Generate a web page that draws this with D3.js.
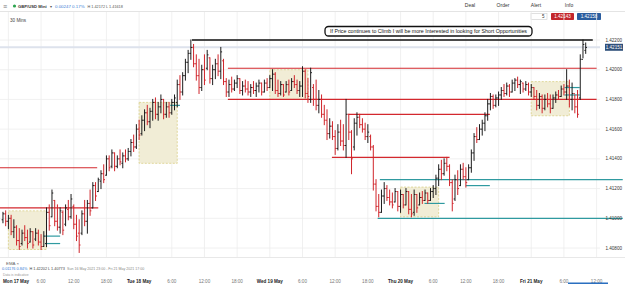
<!DOCTYPE html>
<html>
<head>
<meta charset="utf-8">
<script src="https://cdn.jsdelivr.net/npm/d3@7"></script>
<style>
  body { margin: 0; background: #fff; }
  svg text { font-family: "Liberation Sans", Arial, sans-serif; }
</style>
</head>
<body>
<svg id="chart" width="625" height="284"></svg>
<script>
// GBP/USD Mini, 30 min bars, first bar Sun 16 May 23:00
const firstBar = '2021-05-16T23:00:00Z'
// [open, high, low, close]
const ohlc = [
  [1.4099,1.4104,1.4097,1.4103],[1.4103,1.4105,1.4095,1.4098],[1.4098,1.4102,1.4093,1.4100],[1.4100,1.4102,1.4089,1.4091],
  [1.4091,1.4099,1.4087,1.4094],[1.4094,1.4095,1.4082,1.4085],[1.4085,1.4093,1.4079,1.4081],[1.4083,1.4092,1.4082,1.4090],
  [1.4090,1.4095,1.4085,1.4087],[1.4087,1.4092,1.4080,1.4083],[1.4084,1.4093,1.4084,1.4091],[1.4091,1.4091,1.4080,1.4082],
  [1.4086,1.4093,1.4085,1.4090],[1.4090,1.4092,1.4082,1.4084],[1.4084,1.4089,1.4079,1.4081],[1.4081,1.4091,1.4081,1.4088],
  [1.4083,1.4107,1.4081,1.4104],[1.4104,1.4109,1.4092,1.4095],[1.4101,1.4119,1.4101,1.4117],[1.4112,1.4112,1.4095,1.4098],
  [1.4098,1.4109,1.4092,1.4094],[1.4094,1.4107,1.4090,1.4105],[1.4104,1.4105,1.4089,1.4092],[1.4096,1.4109,1.4095,1.4107],
  [1.4106,1.4112,1.4099,1.4101],[1.4101,1.4116,1.4100,1.4113],[1.4108,1.4109,1.4093,1.4096],[1.4096,1.4102,1.4085,1.4088],
  [1.4090,1.4099,1.4077,1.4082],[1.4090,1.4105,1.4089,1.4103],[1.4103,1.4112,1.4095,1.4098],[1.4098,1.4112,1.4090,1.4110],
  [1.4110,1.4119,1.4102,1.4105],[1.4107,1.4124,1.4107,1.4122],[1.4122,1.4124,1.4112,1.4115],[1.4118,1.4127,1.4118,1.4126],
  [1.4125,1.4132,1.4120,1.4130],[1.4130,1.4136,1.4124,1.4126],[1.4129,1.4142,1.4129,1.4140],[1.4140,1.4142,1.4132,1.4134],
  [1.4135,1.4146,1.4134,1.4144],[1.4144,1.4144,1.4132,1.4135],[1.4135,1.4142,1.4134,1.4140],[1.4140,1.4146,1.4136,1.4138],
  [1.4137,1.4144,1.4134,1.4142],[1.4142,1.4146,1.4138,1.4140],[1.4140,1.4147,1.4139,1.4145],[1.4145,1.4153,1.4142,1.4151],
  [1.4151,1.4156,1.4145,1.4148],[1.4148,1.4163,1.4147,1.4160],[1.4160,1.4166,1.4153,1.4156],[1.4157,1.4169,1.4156,1.4166],
  [1.4166,1.4173,1.4159,1.4171],[1.4171,1.4176,1.4163,1.4165],[1.4165,1.4174,1.4161,1.4172],[1.4172,1.4180,1.4166,1.4178],
  [1.4178,1.4181,1.4167,1.4170],[1.4170,1.4178,1.4166,1.4175],[1.4175,1.4183,1.4171,1.4180],[1.4180,1.4180,1.4167,1.4170],
  [1.4170,1.4178,1.4168,1.4175],[1.4175,1.4178,1.4168,1.4171],[1.4171,1.4180,1.4170,1.4178],[1.4178,1.4183,1.4173,1.4181],
  [1.4178,1.4193,1.4175,1.4190],[1.4190,1.4196,1.4180,1.4185],[1.4185,1.4198,1.4183,1.4196],[1.4196,1.4207,1.4193,1.4205],
  [1.4205,1.4213,1.4198,1.4211],[1.4211,1.4220,1.4207,1.4215],[1.4215,1.4217,1.4202,1.4204],[1.4204,1.4210,1.4193,1.4196],
  [1.4196,1.4207,1.4184,1.4188],[1.4188,1.4203,1.4186,1.4200],[1.4200,1.4210,1.4190,1.4193],[1.4201,1.4213,1.4200,1.4210],
  [1.4208,1.4208,1.4191,1.4194],[1.4194,1.4203,1.4190,1.4200],[1.4200,1.4207,1.4194,1.4204],[1.4204,1.4210,1.4196,1.4199],
  [1.4199,1.4215,1.4194,1.4212],[1.4206,1.4207,1.4190,1.4192],[1.4192,1.4194,1.4182,1.4185],[1.4185,1.4193,1.4182,1.4190],
  [1.4190,1.4195,1.4185,1.4187],[1.4187,1.4193,1.4186,1.4191],[1.4191,1.4196,1.4188,1.4194],[1.4194,1.4194,1.4184,1.4186],
  [1.4186,1.4192,1.4183,1.4189],[1.4189,1.4193,1.4185,1.4187],[1.4187,1.4192,1.4183,1.4185],[1.4185,1.4190,1.4182,1.4188],
  [1.4188,1.4192,1.4184,1.4186],[1.4186,1.4191,1.4182,1.4189],[1.4189,1.4193,1.4185,1.4191],[1.4191,1.4191,1.4183,1.4185],
  [1.4185,1.4193,1.4185,1.4191],[1.4191,1.4194,1.4186,1.4188],[1.4188,1.4196,1.4188,1.4194],[1.4194,1.4200,1.4186,1.4197],
  [1.4197,1.4198,1.4184,1.4186],[1.4186,1.4193,1.4182,1.4184],[1.4184,1.4192,1.4183,1.4190],[1.4190,1.4190,1.4182,1.4183],
  [1.4185,1.4192,1.4185,1.4190],[1.4190,1.4193,1.4183,1.4185],[1.4186,1.4194,1.4186,1.4192],[1.4192,1.4196,1.4188,1.4190],
  [1.4190,1.4193,1.4184,1.4186],[1.4186,1.4192,1.4182,1.4189],[1.4189,1.4202,1.4182,1.4199],[1.4199,1.4200,1.4181,1.4184],
  [1.4184,1.4194,1.4178,1.4182],[1.4180,1.4201,1.4178,1.4198],[1.4188,1.4190,1.4176,1.4180],[1.4180,1.4193,1.4173,1.4176],
  [1.4176,1.4186,1.4171,1.4180],[1.4180,1.4183,1.4168,1.4170],[1.4170,1.4176,1.4163,1.4166],[1.4166,1.4173,1.4153,1.4157],
  [1.4157,1.4167,1.4154,1.4162],[1.4162,1.4165,1.4153,1.4155],[1.4155,1.4159,1.4143,1.4147],[1.4147,1.4163,1.4146,1.4158],
  [1.4158,1.4166,1.4149,1.4152],[1.4152,1.4163,1.4146,1.4149],[1.4149,1.4180,1.4141,1.4170],[1.4170,1.4170,1.4153,1.4158],
  [1.4158,1.4159,1.4130,1.4140],[1.4148,1.4167,1.4146,1.4164],[1.4164,1.4171,1.4156,1.4168],[1.4168,1.4170,1.4161,1.4163],
  [1.4163,1.4167,1.4158,1.4160],[1.4160,1.4164,1.4153,1.4155],[1.4155,1.4163,1.4151,1.4158],[1.4155,1.4156,1.4146,1.4148],
  [1.4148,1.4149,1.4119,1.4123],[1.4123,1.4126,1.4105,1.4108],[1.4108,1.4116,1.4101,1.4104],[1.4104,1.4119,1.4104,1.4115],
  [1.4115,1.4124,1.4110,1.4120],[1.4120,1.4122,1.4112,1.4114],[1.4114,1.4119,1.4109,1.4111],[1.4111,1.4117,1.4107,1.4109],
  [1.4111,1.4120,1.4111,1.4118],[1.4118,1.4118,1.4105,1.4108],[1.4108,1.4119,1.4104,1.4116],[1.4116,1.4116,1.4107,1.4109],
  [1.4109,1.4120,1.4109,1.4118],[1.4118,1.4118,1.4103,1.4106],[1.4106,1.4116,1.4101,1.4103],[1.4104,1.4119,1.4102,1.4116],
  [1.4116,1.4116,1.4104,1.4107],[1.4109,1.4117,1.4109,1.4114],[1.4114,1.4118,1.4110,1.4112],[1.4112,1.4119,1.4112,1.4117],
  [1.4117,1.4117,1.4110,1.4112],[1.4112,1.4120,1.4112,1.4118],[1.4118,1.4122,1.4114,1.4120],[1.4120,1.4129,1.4116,1.4127],
  [1.4127,1.4136,1.4122,1.4133],[1.4133,1.4139,1.4126,1.4130],[1.4130,1.4140,1.4129,1.4137],[1.4137,1.4141,1.4132,1.4135],
  [1.4135,1.4136,1.4122,1.4124],[1.4124,1.4126,1.4105,1.4110],[1.4113,1.4129,1.4112,1.4126],[1.4126,1.4132,1.4116,1.4120],
  [1.4122,1.4136,1.4122,1.4133],[1.4133,1.4137,1.4126,1.4128],[1.4128,1.4134,1.4121,1.4124],[1.4126,1.4136,1.4126,1.4134],
  [1.4134,1.4146,1.4131,1.4144],[1.4144,1.4157,1.4139,1.4155],[1.4155,1.4161,1.4151,1.4153],[1.4153,1.4163,1.4153,1.4160],
  [1.4160,1.4166,1.4156,1.4164],[1.4164,1.4171,1.4159,1.4169],[1.4169,1.4180,1.4166,1.4177],[1.4177,1.4184,1.4173,1.4182],
  [1.4182,1.4183,1.4174,1.4176],[1.4176,1.4183,1.4175,1.4181],[1.4181,1.4185,1.4176,1.4183],[1.4183,1.4188,1.4180,1.4186],
  [1.4186,1.4190,1.4182,1.4184],[1.4184,1.4191,1.4183,1.4189],[1.4189,1.4190,1.4182,1.4185],[1.4185,1.4193,1.4185,1.4191],
  [1.4191,1.4194,1.4186,1.4193],[1.4193,1.4195,1.4188,1.4190],[1.4190,1.4193,1.4184,1.4192],[1.4191,1.4191,1.4185,1.4187],
  [1.4187,1.4192,1.4186,1.4190],[1.4190,1.4191,1.4183,1.4185],[1.4185,1.4190,1.4182,1.4188],[1.4188,1.4188,1.4180,1.4182],
  [1.4182,1.4186,1.4173,1.4176],[1.4176,1.4184,1.4174,1.4182],[1.4182,1.4183,1.4171,1.4174],[1.4174,1.4183,1.4173,1.4180],
  [1.4180,1.4184,1.4175,1.4177],[1.4177,1.4183,1.4171,1.4174],[1.4174,1.4183,1.4174,1.4181],[1.4181,1.4185,1.4178,1.4183],
  [1.4183,1.4186,1.4180,1.4182],[1.4182,1.4189,1.4182,1.4187],[1.4187,1.4190,1.4183,1.4185],[1.4185,1.4200,1.4180,1.4189],
  [1.4189,1.4193,1.4175,1.4180],[1.4180,1.4191,1.4173,1.4184],[1.4184,1.4183,1.4171,1.4175],[1.4175,1.4186,1.4168,1.4170],
  [1.4181,1.4210,1.4180,1.4207],[1.4207,1.4220,1.4208,1.4217],[1.4213,1.4218,1.4211,1.4215]
]

const priceTicks = [1.408, 1.410, 1.412, 1.414, 1.416, 1.418, 1.420, 1.422]
const lastPrice = 1.42151

// hours after Mon 17 May 00:00, one label every 6 hours
const timeTickHours = [0,6,12,18,24,30,36,42,48,54,60,66,72,78,84,90,96,102,108]
const timeTickLabels = ['Mon 17 May','6:00','12:00','18:00','Tue 18 May','6:00','12:00','18:00',
  'Wed 19 May','6:00','12:00','18:00','Thu 20 May','6:00','12:00','18:00','Fri 21 May','6:00','12:00']

// session boxes: start hour, length, top, bottom
const sessionBoxes = [
  [0, 7, 1.4105, 1.4079], [24, 7, 1.4178, 1.4137], [48, 7, 1.4200, 1.4180],
  [72, 7, 1.4121, 1.4101], [96, 7, 1.4192, 1.4169]
]

// drawn levels: price, from hour, to hour
const blackLevels = [[1.4220, 33.7, 107.3]]
const redLevels = [
  [1.4201, 40.3, 108], [1.4180, 40.3, 108], [1.4170, 62.5, 88.4],
  [1.4141, 59.4, 81.0], [1.4134, -1.6, 16.3], [1.4107, -1.6, 16.5]
]
const tealLevels = [
  [1.4126, 68.2, 112.8], [1.4100, 67.8, 112.8], [1.4122, 84.0, 88.4],
  [1.4088, 6.7, 9.5], [1.4083, 6.7, 9.5], [1.4110, 76.4, 80.1],
  [1.4176, 29.7, 31.5], [1.4188, 102.1, 104.9], [1.4183, 102.1, 104.9]
]

const note = 'If Price continues to Climb I will be more Interested in looking for Short Opportunities'

const monday = new Date('2021-05-17T00:00:00Z')
const atHour = h => new Date(monday.getTime() + h * 3600e3)
const barTime = i => new Date(new Date(firstBar).getTime() + i * 1800e3)

let svg = d3.select('#chart')

let x = d3.scaleUtc().domain([atHour(0), atHour(108)]).range([8.4, 596.6])
let y = d3.scaleLinear().domain([1.408, 1.422]).range([248, 40])

function label(px, py, str, size, color, width) {
    let t = svg.append('text').attr('x', px).attr('y', py).text(str)
        .style('font-size', size + 'px').attr('fill', color)
    if (width) t.attr('textLength', width).attr('lengthAdjust', 'spacingAndGlyphs')
    return t
}

// header
svg.append('line').attr('x1', 0).attr('x2', 625).attr('y1', 11.5).attr('y2', 11.5)
    .attr('stroke', '#e4e4e4')
label(3, 8.5, '≡', 7, '#777')
svg.append('circle').attr('cx', 14.5).attr('cy', 6).attr('r', 1.6).attr('fill', '#2da44e')
label(18, 8, 'GBP/USD Mini', 4.2, '#333').style('font-weight', 'bold')
label(49.5, 8, '▾', 4.2, '#555')
label(55, 8, '0.00247 0.17%', 4.4, '#3a7bd5')
label(87.5, 8, 'H 1.42172 L 1.41618', 3.8, '#555')

let menu = ['Deal', 'Order', 'Alert', 'Info']
svg.selectAll('.menu').data(menu).join('text')
    .attr('class', 'menu')
    .attr('x', (d, i) => 470 + i * 33)
    .attr('y', 7)
    .attr('text-anchor', 'middle')
    .style('font-size', '5px')
    .attr('fill', '#333')
    .text(d => d)

svg.append('rect').attr('x', 531).attr('y', 13.5).attr('width', 16).attr('height', 6)
    .attr('fill', '#fff').attr('stroke', '#ccc').attr('stroke-width', 0.6)
label(542, 18.2, '5', 4.5, '#333')
svg.append('rect').attr('x', 551).attr('y', 13).attr('width', 23).attr('height', 7).attr('rx', 0.8).attr('fill', '#c3262b')
label(562.5, 18.3, '1.42143', 4.6, '#fff').attr('text-anchor', 'middle')
svg.append('rect').attr('x', 577).attr('y', 13).attr('width', 24).attr('height', 7).attr('rx', 0.8).attr('fill', '#2b5d9e')
label(589, 18.3, '1.42158', 4.6, '#fff').attr('text-anchor', 'middle')

label(10, 21.5, '30 Mins', 4.6, '#444')

// grid
svg.append('g').selectAll('line').data(timeTickHours).join('line')
    .attr('x1', d => x(atHour(d))).attr('x2', d => x(atHour(d)))
    .attr('y1', 12).attr('y2', 257)
    .attr('stroke', '#ececec').attr('stroke-width', 0.8)
svg.append('g').selectAll('line').data(priceTicks).join('line')
    .attr('x1', 0).attr('x2', 600)
    .attr('y1', d => y(d)).attr('y2', d => y(d))
    .attr('stroke', '#ececec').attr('stroke-width', 0.8)
svg.append('line').attr('x1', 0).attr('x2', 625).attr('y1', 257.5).attr('y2', 257.5).attr('stroke', '#e8e8e8')

// session boxes
svg.append('g').selectAll('rect').data(sessionBoxes).join('rect')
    .attr('x', d => x(atHour(d[0])))
    .attr('width', d => x(atHour(d[0] + d[1])) - x(atHour(d[0])))
    .attr('y', d => y(d[2]))
    .attr('height', d => y(d[3]) - y(d[2]))
    .attr('fill', '#f1edd6')
    .attr('stroke', '#d9cf86')
    .attr('stroke-width', 0.8)
    .attr('stroke-dasharray', '2,1.5')

// last price line
svg.append('line').attr('x1', 0).attr('x2', 600)
    .attr('y1', y(lastPrice)).attr('y2', y(lastPrice))
    .attr('stroke', '#dde2ec').attr('stroke-width', 2)

function drawLevels(data, color, width) {
    svg.append('g').selectAll('line').data(data).join('line')
        .attr('x1', d => x(atHour(d[1])))
        .attr('x2', d => x(atHour(d[2])))
        .attr('y1', d => y(d[0]))
        .attr('y2', d => y(d[0]))
        .attr('stroke', color)
        .attr('stroke-width', width)
}
drawLevels(redLevels, '#d3282e', 1.2)
drawLevels(tealLevels, '#2f9aa0', 1.2)

// OHLC bars
let bars = svg.append('g')
ohlc.forEach((d, i) => {
    let cx = x(barTime(i))
    let color = d[3] >= d[0] ? '#1c1c1c' : '#d0252b'
    let g = bars.append('g').attr('stroke', color).attr('stroke-width', 1)
    g.append('line').attr('x1', cx).attr('x2', cx).attr('y1', y(d[1]) - 0.5).attr('y2', y(d[2]) + 0.5)
    g.append('line').attr('x1', cx - 1.3).attr('x2', cx).attr('y1', y(d[0])).attr('y2', y(d[0]))
    g.append('line').attr('x1', cx).attr('x2', cx + 1.3).attr('y1', y(d[3])).attr('y2', y(d[3]))
})

drawLevels(blackLevels, '#111', 1.6)

// price axis
svg.append('g').selectAll('text').data(priceTicks).join('text')
    .attr('x', 622).attr('y', d => y(d) + 1.6)
    .attr('text-anchor', 'end')
    .style('font-size', '4.6px')
    .attr('fill', '#333')
    .text(d => d3.format('.5f')(d))
svg.append('rect').attr('x', 605).attr('y', y(lastPrice) - 3.5).attr('width', 18).attr('height', 7)
    .attr('fill', '#2f4f7a')
label(614, y(lastPrice) + 1.6, d3.format('.5f')(lastPrice), 4.6, '#fff').attr('text-anchor', 'middle')

// time axis
svg.append('g').selectAll('text').data(timeTickHours).join('text')
    .attr('x', (d, i) => i === 0 ? 3 : x(atHour(d)))
    .attr('y', 282.5)
    .attr('text-anchor', (d, i) => i === 0 ? 'start' : 'middle')
    .style('font-size', '4.6px')
    .style('font-weight', (d, i) => timeTickLabels[i].length > 5 ? 'bold' : 'normal')
    .attr('fill', (d, i) => timeTickLabels[i].length > 5 ? '#222' : '#777')
    .text((d, i) => timeTickLabels[i])
svg.append('rect').attr('x', 568).attr('y', 282.5).attr('width', 40).attr('height', 1.5).attr('fill', '#2a6fc0')

// footer legend
label(6, 264.5, 'EMA  ×', 4.4, '#666')
label(2, 270, '0.01176 0.84%', 3.8, '#3a7bd5')
label(29.5, 270, 'H 1.42202 L 1.40773', 3.8, '#444')
label(67, 270, 'Sun 16 May 2021 23:00 - Fri 21 May 2021 17:00', 3.6, '#888')
label(3, 275.5, 'Data is indicative', 3.4, '#999')

// note callout
svg.append('rect').attr('x', 325).attr('y', 26.5).attr('width', 207).attr('height', 9.5).attr('rx', 3.5)
    .attr('fill', '#fff').attr('stroke', '#111').attr('stroke-width', 1.3)
label(428.5, 33.3, note, 6, '#111', 197).attr('text-anchor', 'middle')
</script>
</body>
</html>
